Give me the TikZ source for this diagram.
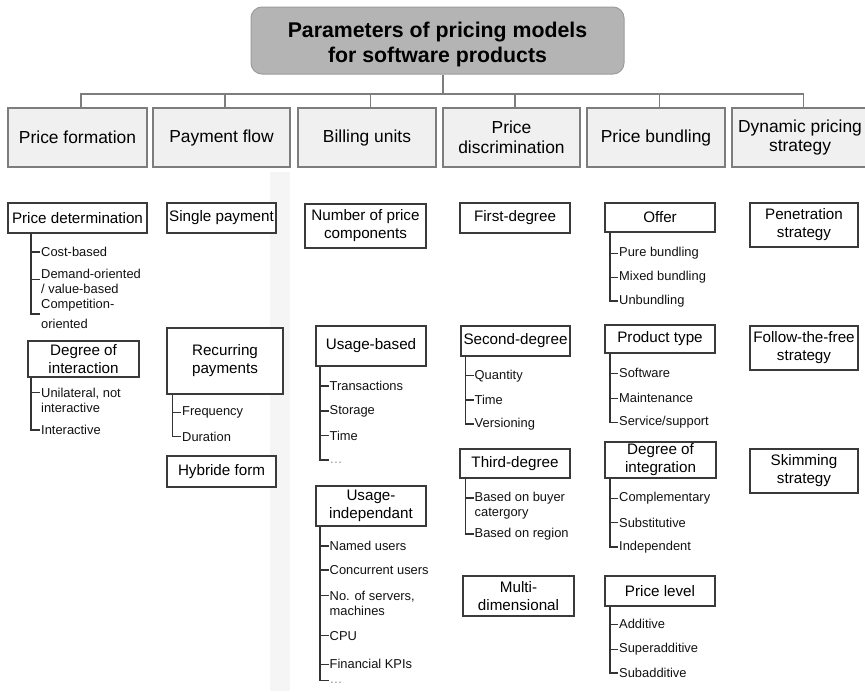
\documentclass[tikz,border=0pt]{standalone}
\usepackage{fontspec}
\setmainfont{Liberation Sans}
\definecolor{titlefill}{HTML}{B4B4B4}
\definecolor{titleedge}{HTML}{9C9C9C}
\definecolor{hdrfill}{HTML}{F0F0F0}
\definecolor{hdredge}{HTML}{7D7D7D}
\definecolor{subedge}{HTML}{3A3A3A}
\definecolor{treeline}{HTML}{333333}
\definecolor{leaftext}{HTML}{111111}
\definecolor{bandfill}{HTML}{F5F5F5}
\begin{document}
\begin{tikzpicture}[x=1pt,y=-1pt,
  titlebox/.style={draw=titleedge, fill=titlefill, rounded corners=11pt, line width=1pt,
    minimum width=373pt, minimum height=67pt, inner sep=0pt},
  titletext/.style={align=center, inner sep=0pt, font=\fontsize{21.3}{25}\selectfont\bfseries},
  hdr/.style={draw=hdredge, fill=hdrfill, line width=1.3pt, inner sep=0pt, align=center,
    minimum height=59pt, font=\fontsize{17.4}{19.8}\selectfont},
  sub/.style={draw=subedge, fill=white, line width=1.1pt, inner sep=0pt, align=center,
    font=\fontsize{15.2}{18}\selectfont},
  leaf/.style={anchor=west, inner sep=1pt, align=left, text=leaftext,
    font=\fontsize{12.9}{15.5}\selectfont},
  tree/.style={draw=treeline, line width=1.1pt},
  bus/.style={draw=hdredge, line width=1.3pt},
  dots/.style={leaf, text=black!45}]
\useasboundingbox (0,0) rectangle (865,691);

% light band behind the second column
\fill[bandfill] (270,172) rectangle (290,691);

% root
\node[titlebox, label={[titletext, yshift=-3.5pt]center:Parameters of pricing models\\for software products}]
  (title) at (437.5,40.5) {};

% parameter headers
\node[hdr, minimum width=139pt] (hPF)   at (77.5,137.5)  {Price formation};
\node[hdr, minimum width=137pt] (hPay)  at (221.5,137.5) {Payment flow};
\node[hdr, minimum width=138pt] (hBill) at (367,137.5)   {Billing units};
\node[hdr, minimum width=137pt] (hDisc) at (511.5,137.5) {Price\\discrimination};
\node[hdr, minimum width=138pt] (hBund) at (656,137.5)   {Price bundling};
\node[hdr, minimum width=136pt] (hDyn)  at (800,137.5)   {Dynamic pricing\\strategy};

% root-to-header connectors
\coordinate (busy) at (0,94);
\draw[bus] ([xshift=5.5pt]title.south) -- ([xshift=5.5pt]title.south |- busy);
\draw[bus] ([xshift=3.5pt]hPF.north) |- ([xshift=3.5pt]hDyn.north |- busy) -- ([xshift=3.5pt]hDyn.north);
\foreach \n in {hPay,hBill,hDisc,hBund}
  \draw[bus] ([xshift=3.5pt]\n.north) -- ([xshift=3.5pt]\n.north |- busy);

% ---------- Price formation ----------
\node[sub, minimum width=139pt, minimum height=30pt] (bPD) at (77.5,218) {Price determination};
\coordinate (t1) at (31,0);
\node[leaf] (cb) at (40,252)   {Cost-based};
\node[leaf] (dv) at (40,281.5) {Demand-oriented\\/ value-based};
\node[leaf] (co) at (40,314)   {Competition-\\[4pt]oriented};
\draw[tree] (bPD.south -| t1) |- (co.west);
\draw[tree] (cb.west -| t1) -- (cb.west);
\draw[tree] ([yshift=2pt]dv.west -| t1) -- ([yshift=2pt]dv.west);

\node[sub, minimum width=111pt, minimum height=36pt] (bDI) at (83.5,359) {Degree of\\interaction};
\node[leaf] (ul) at (40,400.5) {Unilateral, not\\interactive};
\node[leaf] (ia) at (40,430)   {Interactive};
\draw[tree] (bDI.south -| t1) |- (ia.west);
\draw[tree] ([yshift=7.8pt]ul.west -| t1) -- ([yshift=7.8pt]ul.west);

% ---------- Payment flow ----------
\node[sub, minimum width=109pt, minimum height=30pt] (bSP) at (221.5,218) {Single payment};
\node[sub, minimum width=116pt, minimum height=66pt] (bRP) at (225,361) {Recurring\\payments};
\coordinate (t2) at (172.3,0);
\node[leaf] (fr) at (181,412.7) {Frequency};
\node[leaf] (du) at (181,436.7) {Duration};
\draw[tree] (bRP.south -| t2) |- (du.west);
\draw[tree] (fr.west -| t2) -- (fr.west);
\node[sub, minimum width=109pt, minimum height=31pt] (bHF) at (221.5,471.5) {Hybride form};

% ---------- Billing units ----------
\node[sub, minimum width=121pt, minimum height=44pt] (bNP) at (365.5,226) {Number of price\\components};
\node[sub, minimum width=110pt, minimum height=40pt] (bUB) at (371,346) {Usage-based};
\coordinate (t3) at (320,0);
\node[leaf] (tr) at (328.5,386)   {Transactions};
\node[leaf] (st) at (328.5,411)   {Storage};
\node[leaf] (ti) at (328.5,435.7) {Time};
\node[dots] (da) at (328.5,463)   {…};
\draw[tree] (bUB.south -| t3) |- ([yshift=3pt]da.west);
\foreach \n in {tr,st,ti} \draw[tree] (\n.west -| t3) -- (\n.west);

\node[sub, minimum width=110pt, minimum height=40pt] (bUI) at (371,506) {Usage-\\independant};
\node[leaf] (nu) at (328.5,546)   {Named users};
\node[leaf] (cu) at (328.5,570)   {Concurrent users};
\node[leaf] (ns) at (328.5,603.5) {No. of servers,\\machines};
\node[leaf] (cp) at (328.5,635.7) {CPU};
\node[leaf] (fk) at (328.5,664.3) {Financial KPIs};
\node[dots] (db) at (328.5,683)   {…};
\draw[tree] (bUI.south -| t3) |- ([yshift=2.5pt]db.west);
\foreach \n in {nu,cu,cp,fk} \draw[tree] (\n.west -| t3) -- (\n.west);
\draw[tree] ([yshift=7.8pt]ns.west -| t3) -- ([yshift=7.8pt]ns.west);

% ---------- Price discrimination ----------
\node[sub, minimum width=110pt, minimum height=30pt] (bFD) at (515,218) {First-degree};
\node[sub, minimum width=109pt, minimum height=30pt] (bSD) at (515.5,341) {Second-degree};
\coordinate (t4) at (465.3,0);
\node[leaf] (qu) at (473.5,375.7) {Quantity};
\node[leaf] (tm) at (473.5,400)   {Time};
\node[leaf] (vs) at (473.5,424)   {Versioning};
\draw[tree] (bSD.south -| t4) |- (vs.west);
\foreach \n in {qu,tm} \draw[tree] (\n.west -| t4) -- (\n.west);

\node[sub, minimum width=110pt, minimum height=29pt] (bTD) at (515,463.5) {Third-degree};
\node[leaf] (bb) at (473.5,505.8) {Based on buyer\\catergory};
\node[leaf] (br) at (473.5,534)   {Based on region};
\draw[tree] (bTD.south -| t4) |- (br.west);
\draw[tree] ([yshift=7.8pt]bb.west -| t4) -- ([yshift=7.8pt]bb.west);

\node[sub, minimum width=111pt, minimum height=40pt] (bMD) at (518.5,596) {Multi-\\dimensional};

% ---------- Price bundling ----------
\coordinate (t5) at (610,0);
\node[sub, minimum width=110pt, minimum height=29pt] (bOF) at (660,217.5) {Offer};
\node[leaf] (pb) at (618,253.3) {Pure bundling};
\node[leaf] (mb) at (618,277.3) {Mixed bundling};
\node[leaf] (ub) at (618,301)   {Unbundling};
\draw[tree] (bOF.south -| t5) |- (ub.west);
\foreach \n in {pb,mb} \draw[tree] (\n.west -| t5) -- (\n.west);

\node[sub, minimum width=110pt, minimum height=28pt] (bPT) at (660,339) {Product type};
\node[leaf] (sw) at (618,373.3) {Software};
\node[leaf] (mt) at (618,398.3) {Maintenance};
\node[leaf] (ss) at (618,422.5) {Service/support};
\draw[tree] (bPT.south -| t5) |- (ss.west);
\foreach \n in {sw,mt} \draw[tree] (\n.west -| t5) -- (\n.west);

\node[sub, minimum width=111pt, minimum height=36pt] (bDG) at (660.5,460) {Degree of\\integration};
\node[leaf] (cm)  at (618,498.3) {Complementary};
\node[leaf] (sb)  at (618,522.7) {Substitutive};
\node[leaf] (ind) at (618,547)   {Independent};
\draw[tree] (bDG.south -| t5) |- (ind.west);
\foreach \n in {cm,sb} \draw[tree] (\n.west -| t5) -- (\n.west);

\node[sub, minimum width=110pt, minimum height=30pt] (bPL) at (660,591) {Price level};
\node[leaf] (ad) at (618,624.3) {Additive};
\node[leaf] (sa) at (618,649.3) {Superadditive};
\node[leaf] (su) at (618,673)   {Subadditive};
\draw[tree] (bPL.south -| t5) |- (su.west);
\foreach \n in {ad,sa} \draw[tree] (\n.west -| t5) -- (\n.west);

% ---------- Dynamic pricing strategy ----------
\node[sub, minimum width=108pt, minimum height=44pt] (bPS) at (804,225) {Penetration\\strategy};
\node[sub, minimum width=108pt, minimum height=44pt] (bFF) at (804,348) {Follow-the-free\\strategy};
\node[sub, minimum width=108pt, minimum height=44pt] (bSK) at (804,471) {Skimming\\strategy};
\end{tikzpicture}
\end{document}
